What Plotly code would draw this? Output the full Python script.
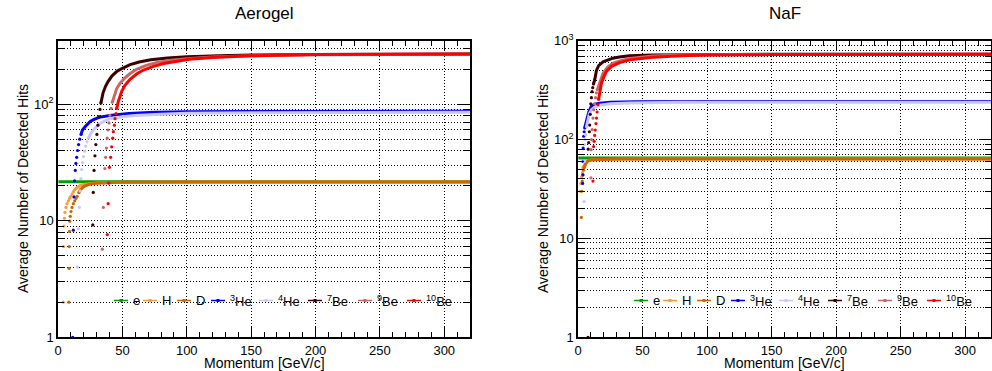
import plotly.graph_objects as go

# ---------------- data ----------------
SPECIES = ["e", "H", "D", "3He", "4He", "7Be", "9Be", "10Be"]
LABELS = ["e", "H", "D", "<sup>3</sup>He", "<sup>4</sup>He", "<sup>7</sup>Be", "<sup>9</sup>Be", "<sup>10</sup>Be"]
COLORS = ["#00a000", "#ff9933", "#cc6600", "#0000ff", "#c8c8ff", "#3d0000", "#cc6666", "#ff0000"]

X_TICKS = [0, 50, 100, 150, 200, 250, 300]

# ---- Aerogel: sparse points near threshold (rise) and dense band ----
AER_E_RISE_P = []
AER_E_RISE_V = []
AER_E_BAND_P = [0.3, 40, 80, 120, 160, 200, 240, 280, 320]
AER_E_BAND_V = [21.6, 21.6, 21.6, 21.6, 21.6, 21.6, 21.6, 21.6, 21.6]

AER_H_RISE_P = [4.0, 4.3, 4.6, 5.0, 5.4, 6.2, 7.0, 8.0, 9.0, 10.0, 11.0, 12.0, 13.0]
AER_H_RISE_V = [2.0, 6.0, 9.0, 10.5, 11.8, 13.0, 14.0, 14.8, 15.6, 16.2, 17.0, 17.8, 18.5]
AER_H_BAND_P = [13, 15, 17, 20, 25, 30, 40, 60, 100, 160, 240, 320]
AER_H_BAND_V = [18.5, 19.4, 20.0, 20.5, 20.9, 21.1, 21.3, 21.4, 21.5, 21.5, 21.5, 21.5]

AER_D_RISE_P = [8.4, 8.6, 8.7, 8.9, 9.1, 9.5, 10.1, 10.9, 11.9, 13.0, 14.0, 14.9, 16.2]
AER_D_RISE_V = [2.0, 3.9, 6.0, 8.1, 9.9, 10.9, 12.0, 13.0, 14.0, 14.8, 15.5, 16.2, 17.4]
AER_D_BAND_P = [16.2, 17.5, 20, 23, 27, 35, 50, 80, 120, 200, 320]
AER_D_BAND_V = [17.4, 18.5, 19.6, 20.3, 20.8, 21.2, 21.4, 21.5, 21.5, 21.5, 21.5]

AER_HE3_RISE_P = [11.4, 11.9, 12.4, 12.9, 13.4, 13.9, 14.5, 15.2, 16.0, 16.9, 17.9]
AER_HE3_RISE_V = [1.0, 8.3, 16, 22, 27, 31, 35, 40, 45, 50, 55]
AER_HE3_BAND_P = [17.9, 19, 21, 23, 25, 28, 32, 40, 55, 75, 100, 150, 200, 260, 320]
AER_HE3_BAND_V = [55, 60, 64, 68, 71, 74, 77, 80, 83, 85, 86, 86.5, 87, 87, 87]

AER_HE4_RISE_P = [15.0, 15.8, 16.5, 17.2, 17.8, 18.4, 19.1, 19.8, 20.6, 21.5, 22.5, 23.6]
AER_HE4_RISE_V = [4.0, 8.5, 13, 18, 23, 27.5, 31.5, 35.5, 39.5, 43.5, 47.5, 51]
AER_HE4_BAND_P = [23.6, 25, 27.4, 30, 32.6, 36, 40.4, 50, 60, 80, 100, 150, 200, 260, 320]
AER_HE4_BAND_V = [51, 55, 60, 64, 68, 71.5, 75, 78, 80, 82, 83.5, 84.5, 85, 85, 85]

AER_BE7_RISE_P = [27.0, 27.4, 28.0, 28.7, 29.4, 30.2, 31.0, 31.8, 32.6, 33.3]
AER_BE7_RISE_V = [9.2, 17.5, 27, 36, 45, 55, 66, 78, 90, 102]
AER_BE7_BAND_P = [33.3, 35, 37, 39, 42, 46, 50, 56, 63, 72, 85, 100, 125, 150, 200, 250, 320]
AER_BE7_BAND_V = [102, 125, 143, 157, 175, 192, 203, 218, 230, 240, 249, 255, 260, 264, 267, 268, 269]

AER_BE9_RISE_P = [34.4, 35.2, 35.8, 36.4, 37.0, 37.6, 38.2, 38.9, 39.6, 40.3, 41.2, 42.2]
AER_BE9_RISE_V = [5.7, 13, 21, 28, 35, 42, 51, 60, 69, 80, 92, 104]
AER_BE9_BAND_P = [42.2, 43, 45.6, 48, 52, 56, 61, 68, 77, 88, 100, 120, 150, 200, 250, 320]
AER_BE9_BAND_V = [104, 110, 136, 150, 168, 183, 199, 214, 228, 238, 245, 253, 260, 265, 267, 268]

AER_BE10_RISE_P = [38.3, 38.9, 39.4, 39.9, 40.9, 41.7, 42.5, 43.0, 43.8, 44.3, 45.0, 45.6]
AER_BE10_RISE_V = [7.6, 14, 21, 28.7, 35, 43, 51, 58, 66, 75, 83, 92]
AER_BE10_BAND_P = [45.6, 46.9, 49.5, 52, 56, 61, 66, 74, 82, 92, 102, 120, 150, 200, 255, 320]
AER_BE10_BAND_V = [92, 106, 129, 145, 163, 181, 195, 211, 223, 234, 243, 251, 260, 266, 268, 269]

# ---- NaF ----
NAF_E_RISE_P = []
NAF_E_RISE_V = []
NAF_E_BAND_P = [0.3, 40, 80, 120, 160, 200, 240, 280, 320]
NAF_E_BAND_V = [65, 65, 65, 65, 65, 65, 65, 65, 65]

NAF_H_RISE_P = [1.6, 2.2, 2.9, 3.4, 3.9]
NAF_H_RISE_V = [30, 36, 42, 46, 52]
NAF_H_BAND_P = [3.9, 5.2, 6.5, 8, 12, 20, 40, 100, 200, 320]
NAF_H_BAND_V = [52, 57, 60, 61.5, 62.5, 63, 63.5, 63.5, 63.5, 63.5]

NAF_D_RISE_P = [2.6, 2.9, 3.3, 3.8, 4.3, 4.8]
NAF_D_RISE_V = [16.3, 30, 38, 44, 49, 52]
NAF_D_BAND_P = [4.8, 6, 7.8, 10, 15, 30, 80, 160, 320]
NAF_D_BAND_V = [52, 57, 61, 62.3, 63, 63.5, 63.5, 63.5, 63.5]

NAF_HE3_RISE_P = [3.6, 3.8, 3.9, 4.0, 4.4, 4.8, 5.2]
NAF_HE3_RISE_V = [36, 44, 60, 82, 108, 120, 131]
NAF_HE3_BAND_P = [5.2, 6.0, 7.0, 8.5, 10.4, 13, 16.8, 25, 45, 100, 200, 320]
NAF_HE3_BAND_V = [131, 148, 163, 192, 218, 228, 233, 238, 241, 242, 242, 242]

NAF_HE4_RISE_P = [4.7, 5.0, 5.2, 5.6, 6.0, 6.6]
NAF_HE4_RISE_V = [23.6, 60, 89, 100, 112, 135]
NAF_HE4_BAND_P = [6.6, 7.2, 7.8, 8.8, 10.4, 13, 16.8, 25, 40, 80, 150, 320]
NAF_HE4_BAND_V = [135, 150, 165, 182, 200, 213, 222, 230, 235, 238, 239, 239]

NAF_BE7_RISE_P = [7.8, 7.9, 8.3, 8.8, 9.1, 9.5, 9.9, 10.4, 10.9, 11.4, 12.0]
NAF_BE7_RISE_V = [1.0, 80, 93, 120, 140, 180, 230, 265, 305, 335, 365]
NAF_BE7_BAND_P = [12, 12.9, 14.3, 16, 19.4, 23, 27, 32, 40, 58, 80, 120, 200, 320]
NAF_BE7_BAND_V = [365, 400, 500, 560, 610, 640, 665, 685, 703, 715, 722, 727, 730, 731]

NAF_BE9_RISE_P = [10.0, 10.1, 10.4, 11.0, 11.6, 12.2, 12.9, 13.6, 14.3, 15.0]
NAF_BE9_RISE_V = [41, 79, 100, 126, 165, 200, 230, 265, 297, 320]
NAF_BE9_BAND_P = [15, 15.5, 17, 19.4, 23, 27, 32.3, 40, 58, 80, 120, 200, 320]
NAF_BE9_BAND_V = [320, 334, 390, 470, 540, 590, 625, 660, 701, 715, 724, 729, 730]

NAF_BE10_RISE_P = [11.6, 12.1, 12.5, 12.9, 13.4, 13.9, 14.3, 14.8, 15.5, 16.0]
NAF_BE10_RISE_V = [38, 85, 96, 110, 125, 145, 165, 190, 225, 255]
NAF_BE10_BAND_P = [16, 16.8, 18.1, 20, 22, 26, 32.3, 40, 58, 80, 100, 150, 200, 320]
NAF_BE10_BAND_V = [255, 290, 370, 430, 490, 550, 600, 640, 680, 705, 715, 724, 728, 730]

AER = [
    (AER_E_RISE_P, AER_E_RISE_V, AER_E_BAND_P, AER_E_BAND_V),
    (AER_H_RISE_P, AER_H_RISE_V, AER_H_BAND_P, AER_H_BAND_V),
    (AER_D_RISE_P, AER_D_RISE_V, AER_D_BAND_P, AER_D_BAND_V),
    (AER_HE3_RISE_P, AER_HE3_RISE_V, AER_HE3_BAND_P, AER_HE3_BAND_V),
    (AER_HE4_RISE_P, AER_HE4_RISE_V, AER_HE4_BAND_P, AER_HE4_BAND_V),
    (AER_BE7_RISE_P, AER_BE7_RISE_V, AER_BE7_BAND_P, AER_BE7_BAND_V),
    (AER_BE9_RISE_P, AER_BE9_RISE_V, AER_BE9_BAND_P, AER_BE9_BAND_V),
    (AER_BE10_RISE_P, AER_BE10_RISE_V, AER_BE10_BAND_P, AER_BE10_BAND_V),
]
NAF = [
    (NAF_E_RISE_P, NAF_E_RISE_V, NAF_E_BAND_P, NAF_E_BAND_V),
    (NAF_H_RISE_P, NAF_H_RISE_V, NAF_H_BAND_P, NAF_H_BAND_V),
    (NAF_D_RISE_P, NAF_D_RISE_V, NAF_D_BAND_P, NAF_D_BAND_V),
    (NAF_HE3_RISE_P, NAF_HE3_RISE_V, NAF_HE3_BAND_P, NAF_HE3_BAND_V),
    (NAF_HE4_RISE_P, NAF_HE4_RISE_V, NAF_HE4_BAND_P, NAF_HE4_BAND_V),
    (NAF_BE7_RISE_P, NAF_BE7_RISE_V, NAF_BE7_BAND_P, NAF_BE7_BAND_V),
    (NAF_BE9_RISE_P, NAF_BE9_RISE_V, NAF_BE9_BAND_P, NAF_BE9_BAND_V),
    (NAF_BE10_RISE_P, NAF_BE10_RISE_V, NAF_BE10_BAND_P, NAF_BE10_BAND_V),
]

# ---------------- layout constants (pixels) ----------------
W, H = 992, 371
PLOT_TOP, PLOT_BOT = 40.7, 337.3
LEFT_X0, LEFT_X1 = 58, 470
RIGHT_X0, RIGHT_X1 = 578, 991
Y_TOP_LOG = {"y": 2.544, "y2": 3.0}
FONT = "Liberation Sans, Arial, Helvetica, sans-serif"

fig = go.Figure()

def add_panel(data, xa, ya):
    for i, (rp, rv, bp, bv) in enumerate(data):
        if rp:
            fig.add_trace(go.Scatter(x=rp, y=rv, mode="markers", name=SPECIES[i],
                                     marker=dict(color=COLORS[i], size=3.2, symbol="circle"),
                                     showlegend=False, xaxis=xa, yaxis=ya, hoverinfo="x+y+name"))
        fig.add_trace(go.Scatter(x=bp, y=bv, mode="lines", name=SPECIES[i],
                                 line=dict(color=COLORS[i], width=3),
                                 showlegend=False, xaxis=xa, yaxis=ya, hoverinfo="x+y+name"))

add_panel(AER, "x", "y")
add_panel(NAF, "x2", "y2")

grid_dash = "1px,2px"
def xaxis_cfg(x0, x1, anchor):
    return dict(domain=[x0 / W, x1 / W], range=[0, 320], tickmode="array", tickvals=X_TICKS,
                anchor=anchor,
                ticks="inside", ticklen=11, tickwidth=1, tickcolor="black",
                minor=dict(dtick=10, ticks="inside", ticklen=6, tickcolor="black", showgrid=False),
                showgrid=True, gridcolor="black", gridwidth=1, griddash=grid_dash,
                showline=True, linecolor="black", linewidth=1.5, mirror="allticks",
                zeroline=False, tickfont=dict(family=FONT, size=13, color="black"),
                automargin=False)

def yaxis_cfg(top_log, majors, minors, texts, anchor):
    return dict(type="log", domain=[1 - PLOT_BOT / H, 1 - PLOT_TOP / H], range=[0, top_log],
                anchor=anchor,
                tickmode="array", tickvals=majors, ticktext=texts,
                ticks="inside", ticklen=12, tickwidth=1, tickcolor="black",
                minor=dict(tickmode="array", tickvals=minors, ticks="inside", ticklen=6,
                           tickcolor="black", showgrid=True, gridcolor="black", gridwidth=1,
                           griddash=grid_dash),
                showgrid=True, gridcolor="black", gridwidth=1, griddash=grid_dash,
                showline=True, linecolor="black", linewidth=1.5, mirror="allticks",
                zeroline=False, tickfont=dict(family=FONT, size=13, color="black"),
                automargin=False)

MIN_L = [2, 3, 4, 5, 6, 7, 8, 9, 20, 30, 40, 50, 60, 70, 80, 90, 200, 300]
MIN_R = MIN_L[:-2] + [200, 300, 400, 500, 600, 700, 800, 900]

fig.update_layout(
    width=W, height=H, margin=dict(l=0, r=0, t=0, b=0, autoexpand=False),
    paper_bgcolor="white", plot_bgcolor="white",
    font=dict(family=FONT, size=14, color="black"),
    showlegend=False,
    xaxis=xaxis_cfg(LEFT_X0, LEFT_X1, "y"),
    xaxis2=xaxis_cfg(RIGHT_X0, RIGHT_X1, "y2"),
    yaxis=yaxis_cfg(Y_TOP_LOG["y"], [1, 10, 100], MIN_L, ["1", "10", "10<sup>2</sup>"], "x"),
    yaxis2=yaxis_cfg(Y_TOP_LOG["y2"], [1, 10, 100, 1000], MIN_R,
                     ["1", "10", "10<sup>2</sup>", "10<sup>3</sup>"], "x2"),
)

# titles and axis titles
ann = []
for (x0, x1, title) in [(LEFT_X0, LEFT_X1, "Aerogel"), (RIGHT_X0, RIGHT_X1, "NaF")]:
    cx = (x0 + x1) / 2 / W
    ann.append(dict(text=title, x=cx, y=1 - 13 / H, xref="paper", yref="paper",
                    showarrow=False, font=dict(size=17), xanchor="center", yanchor="middle"))
    ann.append(dict(text="Momentum [GeV/c]", x=cx, y=1 - 362.5 / H, xref="paper", yref="paper",
                    showarrow=False, font=dict(size=14), xanchor="center", yanchor="middle"))
    ann.append(dict(text="Average Number of Detected Hits", x=(x0 - 35) / W, y=1 - 189 / H,
                    xref="paper", yref="paper", textangle=-90, showarrow=False,
                    font=dict(size=14), xanchor="center", yanchor="middle"))

# legends (ROOT-style horizontal legend inside each pad), positions in pixels
LEG_OFFS = [56, 85, 119, 153, 201, 250, 300, 349]
LEG_LINE = 14
LEG_TXT = 17
LEG_Y = 300.5
shapes = []
for (x0, x1, xr, yr) in [(LEFT_X0, LEFT_X1, "x", "y"), (RIGHT_X0, RIGHT_X1, "x2", "y2")]:
    pw = x1 - x0
    ph = PLOT_BOT - PLOT_TOP
    fy = lambda py: (PLOT_BOT - py) / ph
    tl = Y_TOP_LOG[yr]
    # white legend box, drawn between the grid and the data (data coordinates)
    shapes.append(dict(type="rect", xref=xr, yref=yr,
                       x0=50 / pw * 320, x1=397 / pw * 320, y0=fy(320) * tl, y1=fy(282) * tl,
                       fillcolor="white", line=dict(width=0), layer="between"))
    for i, off in enumerate(LEG_OFFS):
        px0 = x0 + off
        yy = 1 - LEG_Y / H
        shapes.append(dict(type="line", xref="paper", yref="paper",
                           x0=px0 / W, x1=(px0 + LEG_LINE) / W, y0=yy, y1=yy,
                           line=dict(color=COLORS[i], width=1.5), layer="above"))
        cxp = px0 + LEG_LINE / 2
        shapes.append(dict(type="rect", xref="paper", yref="paper",
                           x0=(cxp - 1.5) / W, x1=(cxp + 1.5) / W,
                           y0=yy - 1.5 / H, y1=yy + 1.5 / H,
                           fillcolor=COLORS[i], line=dict(width=0), layer="above"))
        ann.append(dict(text=LABELS[i], x=(px0 + LEG_TXT) / W, y=yy,
                        xref="paper", yref="paper", showarrow=False,
                        xanchor="left", yanchor="middle", font=dict(size=13)))

fig.update_layout(annotations=ann, shapes=shapes)
# remove the browser's default 8px page margin so the figure sits at the window origin
fig.write_html("out.html", config={"displayModeBar": False},
               post_script="document.body.style.margin='0px';")
